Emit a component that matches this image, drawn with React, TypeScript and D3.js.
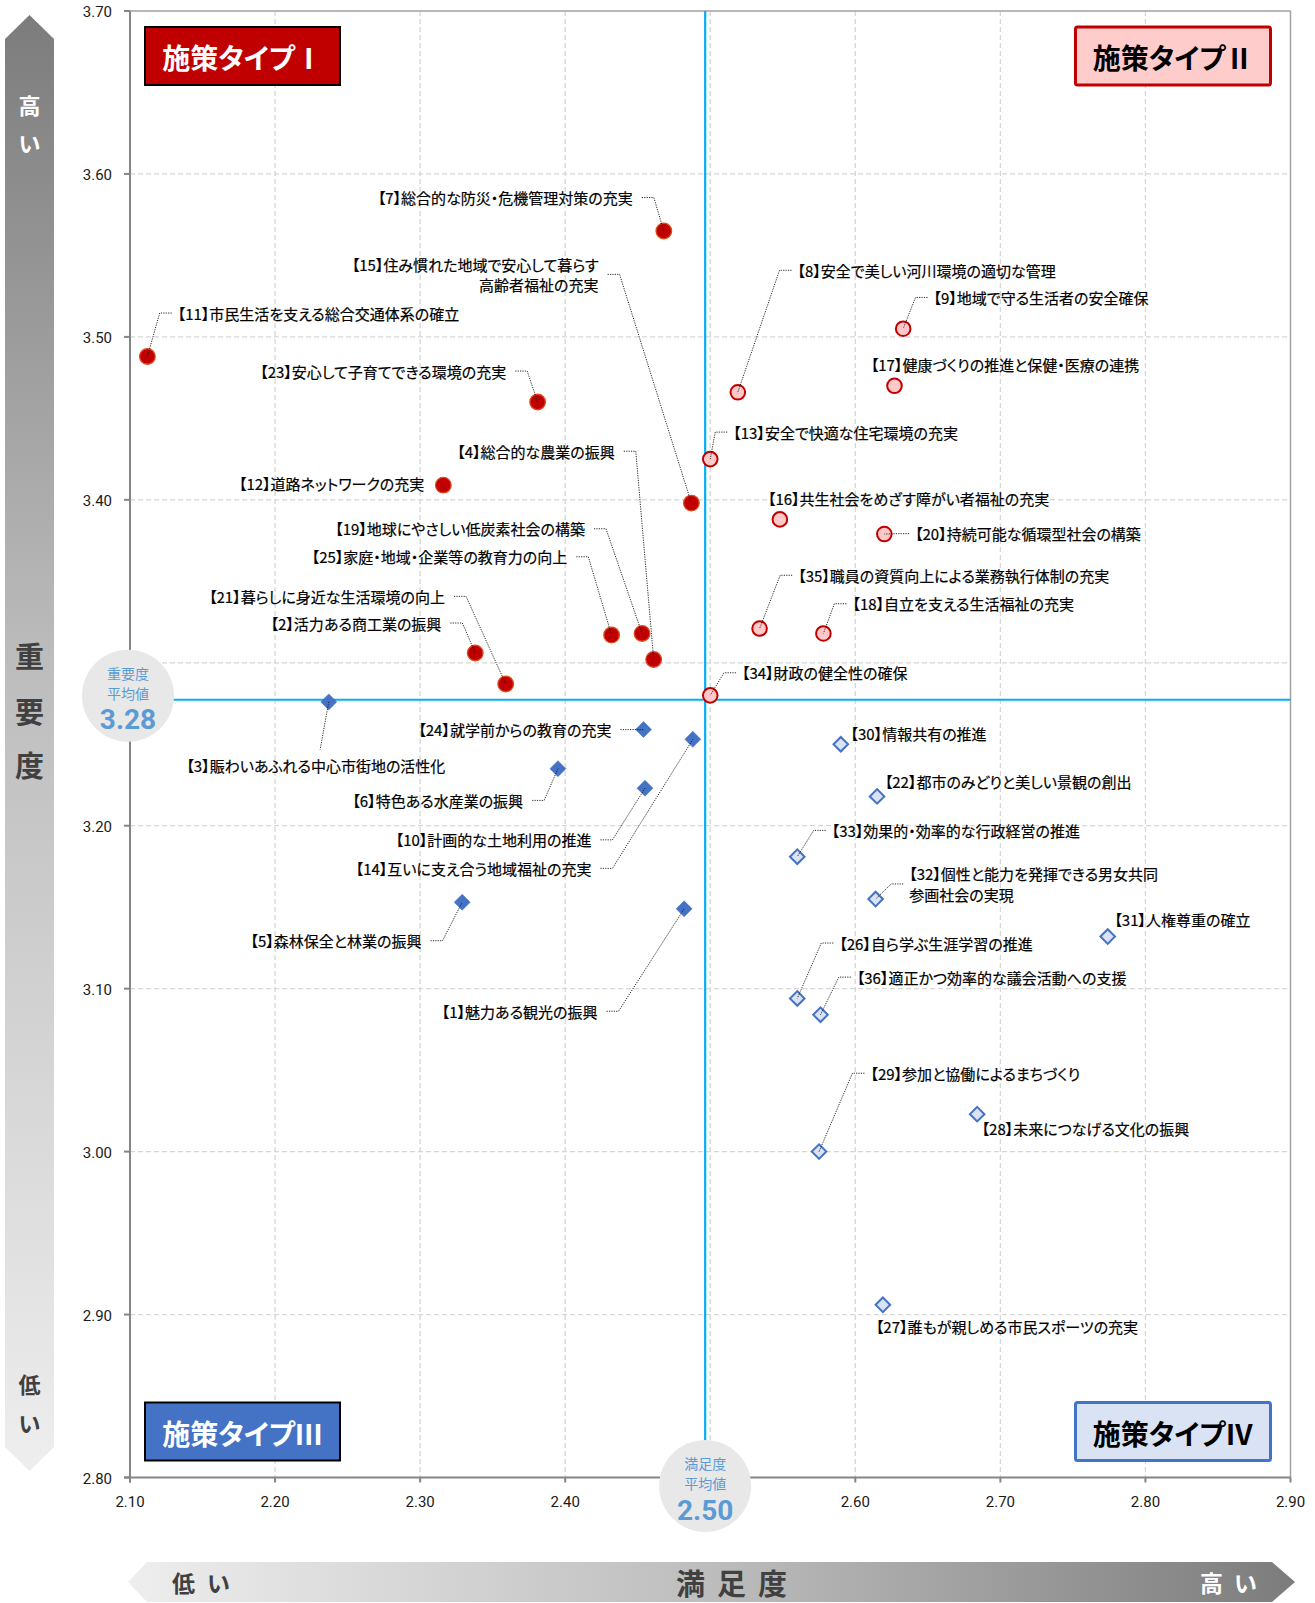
import React from 'react';
import * as d3 from 'd3';

const W = 1315;
const H = 1603;

// ---------- axes ----------
const xDomain = [2.1, 2.9];
const yDomain = [2.8, 3.7];
const xTickValues = [2.1, 2.2, 2.3, 2.4, 2.5, 2.6, 2.7, 2.8, 2.9];
const yTickValues = [2.8, 2.9, 3.0, 3.1, 3.2, 3.3, 3.4, 3.5, 3.6, 3.7];
const satisfactionMean = 2.4965;
const importanceMean = 3.2773;

// ---------- 施策タイプⅠ ----------
const typeIIds = [7, 15, 11, 23, 12, 4, 19, 25, 2, 21];
const typeINames = [
  '総合的な防災・危機管理対策の充実',
  '住み慣れた地域で安心して暮らす\n高齢者福祉の充実',
  '市民生活を支える総合交通体系の確立',
  '安心して子育てできる環境の充実',
  '道路ネットワークの充実',
  '総合的な農業の振興',
  '地球にやさしい低炭素社会の構築',
  '家庭・地域・企業等の教育力の向上',
  '活力ある商工業の振興',
  '暮らしに身近な生活環境の向上',
];
const typeISatisfaction = [2.468, 2.487, 2.112, 2.381, 2.316, 2.461, 2.453, 2.432, 2.338, 2.359];
const typeIImportance = [3.565, 3.398, 3.488, 3.460, 3.409, 3.302, 3.318, 3.317, 3.306, 3.287];

// ---------- 施策タイプⅡ ----------
const typeIIIds = [8, 9, 17, 13, 16, 20, 35, 18, 34];
const typeIINames = [
  '安全で美しい河川環境の適切な管理',
  '地域で守る生活者の安全確保',
  '健康づくりの推進と保健・医療の連携',
  '安全で快適な住宅環境の充実',
  '共生社会をめざす障がい者福祉の充実',
  '持続可能な循環型社会の構築',
  '職員の資質向上による業務執行体制の充実',
  '自立を支える生活福祉の充実',
  '財政の健全性の確保',
];
const typeIISatisfaction = [2.519, 2.633, 2.627, 2.500, 2.548, 2.620, 2.534, 2.578, 2.500];
const typeIIImportance = [3.466, 3.505, 3.470, 3.425, 3.388, 3.379, 3.321, 3.318, 3.280];

// ---------- 施策タイプⅢ ----------
const typeIIIIds = [3, 24, 14, 6, 10, 5, 1];
const typeIIINames = [
  '賑わいあふれる中心市街地の活性化',
  '就学前からの教育の充実',
  '互いに支え合う地域福祉の充実',
  '特色ある水産業の振興',
  '計画的な土地利用の推進',
  '森林保全と林業の振興',
  '魅力ある観光の振興',
];
const typeIIISatisfaction = [2.237, 2.454, 2.488, 2.395, 2.455, 2.329, 2.482];
const typeIIIImportance = [3.276, 3.259, 3.253, 3.235, 3.223, 3.153, 3.149];

// ---------- 施策タイプⅣ ----------
const typeIVIds = [30, 22, 33, 32, 31, 26, 36, 29, 28, 27];
const typeIVNames = [
  '情報共有の推進',
  '都市のみどりと美しい景観の創出',
  '効果的・効率的な行政経営の推進',
  '個性と能力を発揮できる男女共同\n参画社会の実現',
  '人権尊重の確立',
  '自ら学ぶ生涯学習の推進',
  '適正かつ効率的な議会活動への支援',
  '参加と協働によるまちづくり',
  '未来につなげる文化の振興',
  '誰もが親しめる市民スポーツの充実',
];
const typeIVSatisfaction = [2.590, 2.615, 2.560, 2.614, 2.774, 2.560, 2.576, 2.575, 2.684, 2.619];
const typeIVImportance = [3.250, 3.218, 3.181, 3.155, 3.132, 3.094, 3.084, 3.000, 3.023, 2.906];

const quadrantTitles = ['施策タイプⅠ', '施策タイプⅡ', '施策タイプⅢ', '施策タイプⅣ'];

// ---------- label layout (pixel offsets from marker) ----------
type LabelLayout = { anchor: 'start' | 'end'; dx: number; dy: number; leader: boolean; leaderEnd?: [number, number] };
const labelLayout: Record<number, LabelLayout> = {
  7: { anchor: 'end', dx: -31, dy: -33.4, leader: true },
  15: { anchor: 'end', dx: -92.8, dy: -228.7, leader: true },
  11: { anchor: 'start', dx: 30.3, dy: -43.4, leader: true },
  23: { anchor: 'end', dx: -31.4, dy: -31, leader: true },
  12: { anchor: 'end', dx: -19, dy: -1.7, leader: false },
  4: { anchor: 'end', dx: -38.9, dy: -208.3, leader: true },
  19: { anchor: 'end', dx: -57.1, dy: -104.7, leader: true },
  25: { anchor: 'end', dx: -44.3, dy: -78.3, leader: true },
  2: { anchor: 'end', dx: -33.9, dy: -30, leader: true },
  21: { anchor: 'end', dx: -60.7, dy: -87.6, leader: true },
  8: { anchor: 'start', dx: 59.7, dy: -122, leader: true },
  9: { anchor: 'start', dx: 30.3, dy: -31.3, leader: true },
  17: { anchor: 'start', dx: -23.7, dy: -21, leader: false },
  13: { anchor: 'start', dx: 23, dy: -27, leader: true },
  16: { anchor: 'start', dx: -12, dy: -20.7, leader: false },
  20: { anchor: 'start', dx: 30.7, dy: -0.4, leader: true },
  35: { anchor: 'start', dx: 38.6, dy: -53.3, leader: true },
  18: { anchor: 'start', dx: 29, dy: -29.7, leader: true },
  34: { anchor: 'start', dx: 31.7, dy: -22.6, leader: true },
  3: { anchor: 'start', dx: -142.4, dy: 63.7, leader: true, leaderEnd: [-8.6, 47.7] },
  24: { anchor: 'end', dx: -32.1, dy: 0, leader: true },
  14: { anchor: 'end', dx: -101.4, dy: 129, leader: true },
  6: { anchor: 'end', dx: -34.8, dy: 31.7, leader: true },
  10: { anchor: 'end', dx: -53.5, dy: 51.6, leader: true },
  5: { anchor: 'end', dx: -40.7, dy: 38.4, leader: true },
  1: { anchor: 'end', dx: -86.6, dy: 102.4, leader: true },
  30: { anchor: 'start', dx: 9.7, dy: -10.7, leader: false },
  22: { anchor: 'start', dx: 7.7, dy: -15.3, leader: false },
  33: { anchor: 'start', dx: 34.4, dy: -26.3, leader: true },
  32: { anchor: 'start', dx: 33.6, dy: -15.1, leader: true },
  31: { anchor: 'start', dx: 6.6, dy: -17.4, leader: false },
  26: { anchor: 'start', dx: 42, dy: -55.4, leader: true },
  36: { anchor: 'start', dx: 36.3, dy: -37.6, leader: true },
  29: { anchor: 'start', dx: 51.4, dy: -78.4, leader: true },
  28: { anchor: 'start', dx: 4.4, dy: 14, leader: false },
  27: { anchor: 'start', dx: -7, dy: 21.7, leader: false },
};

type Kind = 'I' | 'II' | 'III' | 'IV';
const series: { kind: Kind; ids: number[]; names: string[]; sat: number[]; imp: number[] }[] = [
  { kind: 'I', ids: typeIIds, names: typeINames, sat: typeISatisfaction, imp: typeIImportance },
  { kind: 'II', ids: typeIIIds, names: typeIINames, sat: typeIISatisfaction, imp: typeIIImportance },
  { kind: 'III', ids: typeIIIIds, names: typeIIINames, sat: typeIIISatisfaction, imp: typeIIIImportance },
  { kind: 'IV', ids: typeIVIds, names: typeIVNames, sat: typeIVSatisfaction, imp: typeIVImportance },
];

const JP = "'Noto Sans CJK JP', 'Noto Sans', sans-serif";
const NUM = "Roboto, 'Noto Sans', sans-serif";
const PALT: React.CSSProperties = { fontFeatureSettings: '"palt" 1' };

export default function App() {
  const x = d3.scaleLinear().domain(xDomain).range([130, 1290.5]);
  const y = d3.scaleLinear().domain(yDomain).range([1477.5, 11]);
  const fmt = d3.format('.2f');
  const plotL = x(xDomain[0]);
  const plotR = x(xDomain[1]);
  const plotT = y(yDomain[1]);
  const plotB = y(yDomain[0]);
  const mx = x(satisfactionMean);
  const my = y(importanceMean);
  const circleR = 46;

  const circlePath = d3.symbol(d3.symbolCircle, Math.PI * 7.8 * 7.8)()!;
  const circlePath2 = d3.symbol(d3.symbolCircle, Math.PI * 7.3 * 7.3)()!;
  const diamondPath = d3.symbol(d3.symbolSquare, 128)()!;
  const diamondPath2 = d3.symbol(d3.symbolSquare, 106)()!;

  const points = series.flatMap((s) =>
    s.ids.map((id, i) => ({ kind: s.kind, id, name: s.names[i], px: x(s.sat[i]), py: y(s.imp[i]) }))
  );

  const lineGen = d3.line();

  const leaders = points
    .filter((p) => labelLayout[p.id]?.leader)
    .map((p) => {
      const L = labelLayout[p.id];
      const tx = p.px + L.dx;
      const ty = p.py + L.dy;
      let pts: [number, number][];
      if (L.leaderEnd) {
        pts = [[p.px, p.py], [p.px + L.leaderEnd[0], p.py + L.leaderEnd[1]]];
      } else if (L.anchor === 'end') {
        pts = [[tx + 9, ty], [tx + 21, ty], [p.px, p.py]];
      } else {
        pts = [[tx - 6, ty], [tx - 18, ty], [p.px, p.py]];
      }
      return { id: p.id, d: lineGen(pts)! };
    });

  const marker = (p: (typeof points)[number]) => {
    const t = `translate(${p.px},${p.py})`;
    if (p.kind === 'I')
      return <path key={p.id} d={circlePath} transform={t} fill="#C00000" stroke="#DE4A1C" strokeWidth={1.3} />;
    if (p.kind === 'II')
      return <path key={p.id} d={circlePath2} transform={t} fill="#FFC9C9" stroke="#C00000" strokeWidth={2} />;
    if (p.kind === 'III')
      return <path key={p.id} d={diamondPath} transform={`${t} rotate(45)`} fill="#4472C4" stroke="#4472C4" strokeWidth={0.5} />;
    return <path key={p.id} d={diamondPath2} transform={`${t} rotate(45)`} fill="#DAE3F3" stroke="#4472C4" strokeWidth={2} />;
  };

  const labels = points.map((p) => {
    const L = labelLayout[p.id];
    const lines = (`【${p.id}】` + p.name).split('\n');
    const tx = p.px + L.dx;
    const ty = p.py + L.dy;
    const lh = 20.6;
    const y0 = ty - ((lines.length - 1) * lh) / 2;
    return (
      <text
        key={p.id}
        x={tx}
        textAnchor={L.anchor}
        fontFamily={JP}
        fontSize={15}
        fill="#000"
        stroke="#000"
        strokeWidth={0.2}
        style={PALT}
      >
        {lines.map((ln, i) => (
          <tspan key={i} x={tx} y={y0 + i * lh} dominantBaseline="central">
            {ln}
          </tspan>
        ))}
      </text>
    );
  });

  const boxW = 195;
  const boxH = 58;
  const boxes = [
    { title: quadrantTitles[0], bx: plotL + 15, by: plotT + 16, fill: '#C00000', stroke: '#000', sw: 2, color: '#fff', rx: 0 },
    { title: quadrantTitles[1], bx: plotR - 20 - boxW, by: plotT + 16, fill: '#FFCCCC', stroke: '#C00000', sw: 3, color: '#000', rx: 2 },
    { title: quadrantTitles[2], bx: plotL + 15, by: plotB - 17 - boxH, fill: '#4472C4', stroke: '#000', sw: 2, color: '#fff', rx: 0 },
    { title: quadrantTitles[3], bx: plotR - 20 - boxW, by: plotB - 17 - boxH, fill: '#DAE3F3', stroke: '#4472C4', sw: 3, color: '#000', rx: 2 },
  ];

  const yLabelTicks = yTickValues.filter((v) => Math.abs(v - importanceMean) > 0.05);
  const xLabelTicks = xTickValues.filter((v) => Math.abs(v - satisfactionMean) > 0.05);

  const ycx = plotL - 2;
  const ycy = my - 4;
  const xcx = mx;
  const xcy = plotB + 8.5;

  return (
    <svg
      width={W}
      height={H}
      viewBox={`0 0 ${W} ${H}`}
      style={{ position: 'absolute', left: 0, top: 0, display: 'block', background: '#fff' }}
    >
      <defs>
        <linearGradient id="vgrad" x1="0" y1="0" x2="0" y2="1">
          <stop offset="0" stopColor="#7C7C7C" />
          <stop offset="0.45" stopColor="#BDBDBD" />
          <stop offset="1" stopColor="#EEEEEE" />
        </linearGradient>
        <linearGradient id="hgrad" x1="0" y1="0" x2="1" y2="0">
          <stop offset="0" stopColor="#EEEEEE" />
          <stop offset="0.5" stopColor="#BDBDBD" />
          <stop offset="1" stopColor="#7C7C7C" />
        </linearGradient>
      </defs>

      {/* left vertical arrow band */}
      <polygon points="5,39 29.5,15 54,39 54,1447 29.5,1471 5,1447" fill="url(#vgrad)" />
      <g fontFamily={JP} fontWeight="bold" textAnchor="middle" dominantBaseline="central">
        <text x={29.5} y={104} fontSize={22} fill="#fff">高</text>
        <text x={29.5} y={142} fontSize={22} fill="#fff">い</text>
        <text x={29.5} y={655} fontSize={29} fill="#404040">重</text>
        <text x={29.5} y={710} fontSize={29} fill="#404040">要</text>
        <text x={29.5} y={764} fontSize={29} fill="#404040">度</text>
        <text x={29.5} y={1383} fontSize={22} fill="#404040">低</text>
        <text x={29.5} y={1422} fontSize={22} fill="#404040">い</text>
      </g>

      {/* bottom horizontal arrow band */}
      <polygon points="128,1582 147,1562 1272,1562 1295,1582 1272,1602 147,1602" fill="url(#hgrad)" />
      <g fontFamily={JP} fontWeight="bold" dominantBaseline="central">
        <text x={172} y={1582} fontSize={23} fill="#404040" letterSpacing={12}>低い</text>
        <text x={676} y={1582} fontSize={29} fill="#404040" letterSpacing={12}>満足度</text>
        <text x={1200} y={1582} fontSize={23} fill="#fff" letterSpacing={11}>高い</text>
      </g>

      {/* grid */}
      <g stroke="#D6D6D6" strokeWidth={1.3} strokeDasharray="5,3">
        {xTickValues.slice(1, -1).map((v) => (
          <line key={'gx' + v} x1={x(v)} x2={x(v)} y1={plotT} y2={plotB} />
        ))}
        {yTickValues.slice(1, -1).map((v) => (
          <line key={'gy' + v} x1={plotL} x2={plotR} y1={y(v)} y2={y(v)} />
        ))}
      </g>

      {/* frame */}
      <line x1={plotL} x2={plotR} y1={plotT} y2={plotT} stroke="#A0A0A0" strokeWidth={1.5} />
      <line x1={plotR} x2={plotR} y1={plotT} y2={plotB} stroke="#A0A0A0" strokeWidth={1.5} />
      {/* axes */}
      <g stroke="#858585" strokeWidth={2}>
        <line x1={plotL} x2={plotL} y1={plotT} y2={plotB + 5} />
        <line x1={plotL - 6} x2={plotR} y1={plotB} y2={plotB} />
        {yTickValues.map((v) => (
          <line key={'ty' + v} x1={plotL - 6} x2={plotL} y1={y(v)} y2={y(v)} />
        ))}
        {xTickValues.map((v) => (
          <line key={'tx' + v} x1={x(v)} x2={x(v)} y1={plotB} y2={plotB + 5} />
        ))}
      </g>
      <g fontFamily={NUM} fontSize={15} fill="#1a1a1a">
        {yLabelTicks.map((v) => (
          <text key={'ly' + v} x={plotL - 18} y={y(v) + 1} textAnchor="end" dominantBaseline="central">
            {fmt(v)}
          </text>
        ))}
        {xLabelTicks.map((v) => (
          <text key={'lx' + v} x={x(v)} y={plotB + 24} textAnchor="middle" dominantBaseline="central">
            {fmt(v)}
          </text>
        ))}
      </g>

      {/* mean lines */}
      <line x1={mx} x2={mx} y1={plotT} y2={plotB} stroke="#00B0F0" strokeWidth={2.2} />
      <line x1={plotL} x2={plotR} y1={my} y2={my} stroke="#00B0F0" strokeWidth={2.2} />

      {/* markers */}
      <g>{points.map(marker)}</g>

      {/* leader lines */}
      <g fill="none" stroke="#111" strokeWidth={0.9} strokeDasharray="1.2,1.2">
        {leaders.map((l) => (
          <path key={l.id} d={l.d} />
        ))}
      </g>

      {/* labels */}
      <g>{labels}</g>

      {/* mean circles */}
      <g textAnchor="middle" dominantBaseline="central" fill="#5B9BD5">
        <circle cx={ycx} cy={ycy} r={circleR} fill="#E8E8E8" />
        <text x={ycx} y={ycy - 23} fontSize={14} fontFamily={JP}>重要度</text>
        <text x={ycx} y={ycy - 3} fontSize={14} fontFamily={JP}>平均値</text>
        <text x={ycx} y={ycy + 24} fontSize={28} fontWeight="bold" fontFamily={NUM}>{fmt(importanceMean)}</text>

        <circle cx={xcx} cy={xcy} r={circleR} fill="#E8E8E8" />
        <text x={xcx} y={xcy - 23} fontSize={14} fontFamily={JP}>満足度</text>
        <text x={xcx} y={xcy - 3} fontSize={14} fontFamily={JP}>平均値</text>
        <text x={xcx} y={xcy + 24} fontSize={28} fontWeight="bold" fontFamily={NUM}>{fmt(satisfactionMean)}</text>
      </g>

      {/* quadrant boxes */}
      {boxes.map((b) => (
        <g key={b.title}>
          <rect x={b.bx} y={b.by} width={boxW} height={boxH} rx={b.rx} fill={b.fill} stroke={b.stroke} strokeWidth={b.sw} />
          <text
            x={b.bx + boxW / 2}
            y={b.by + boxH / 2 + 1}
            textAnchor="middle"
            dominantBaseline="central"
            fontFamily={JP}
            fontWeight="bold"
            fontSize={28}
            fill={b.color}
            style={PALT}
          >
            {b.title}
          </text>
        </g>
      ))}
    </svg>
  );
}
